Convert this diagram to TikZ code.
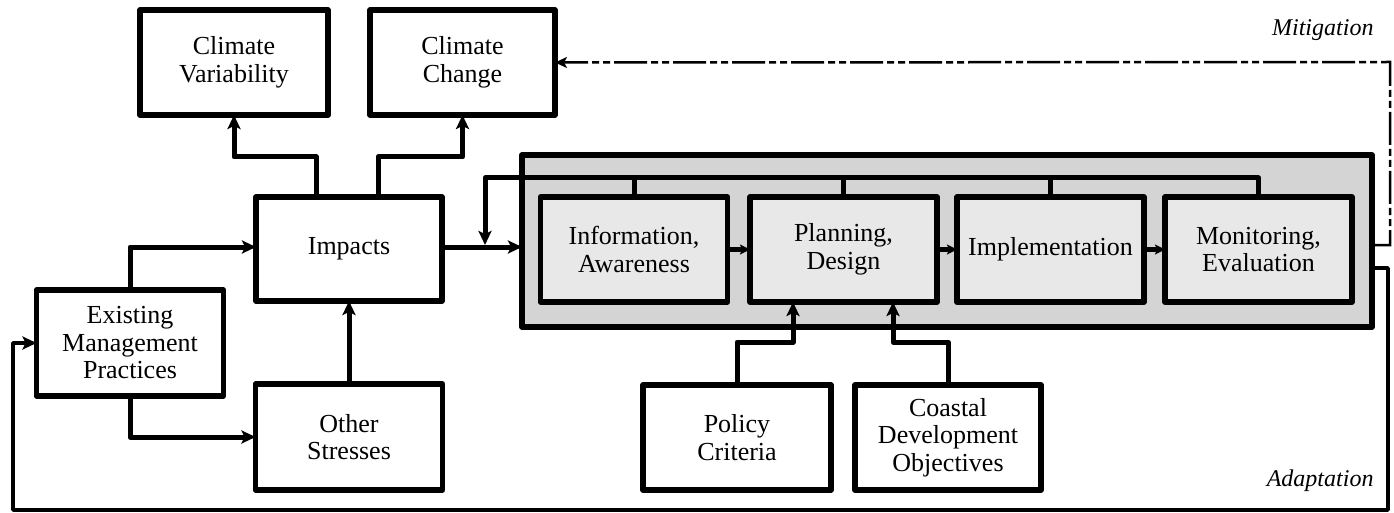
\documentclass[tikz,border=0pt]{standalone}
\usepackage{fontspec}
\setmainfont{LiberationSerif}[Extension=.ttf,UprightFont=*-Regular,ItalicFont=*-Italic,BoldFont=*-Bold,BoldItalicFont=*-BoldItalic]
\usetikzlibrary{arrows.meta,calc}
\begin{document}
\begin{tikzpicture}[x=1pt,y=-1pt,
  box/.style={draw,line width=5.5pt,inner sep=0pt,outer sep=0pt,align=center,
    font=\fontsize{26}{27.5}\selectfont,line join=round},
  wbox/.style={box,fill=white},
  ibox/.style={box,fill=black!9,minimum width=187pt,minimum height=105pt},
  conn/.style={line width=5pt,line join=round,-{Stealth[length=14pt,width=13pt,inset=3pt]}},
  plain/.style={line width=5pt,line join=round},
  small/.style={line width=5pt,-{Stealth[length=10pt,width=10pt,inset=2pt]}},
  lab/.style={font=\fontsize{24}{26}\selectfont\itshape}]
\useasboundingbox (0,0) rectangle (1394,513);
% gray frame
\node[box,fill=black!17,minimum width=850pt,minimum height=172pt] (outer) at (947,241) {};
% boxes
\node[wbox,minimum width=188pt,minimum height=105pt] (cv) at (234,62.5) {Climate\\Variability};
\node[wbox,minimum width=185pt,minimum height=105pt] (cc) at (462.5,62.5) {Climate\\Change};
\node[wbox,minimum width=186pt,minimum height=104pt] (imp) at (349,249) {Impacts};
\node[wbox,minimum width=187pt,minimum height=106pt] (emp) at (130,343) {Existing\\Management\\Practices};
\node[wbox,minimum width=187pt,minimum height=106pt] (os) at (349,437) {Other\\Stresses};
\node[ibox] (info) at (634,249.5) {Information,\\Awareness};
\node[ibox] (plan) at (843.5,249.5) {Planning,\\Design};
\node[ibox] (impl) at (1050.5,249.5) {Implementation};
\node[ibox] (mon) at (1258.5,249.5) {Monitoring,\\Evaluation};
\node[wbox,minimum width=188pt,minimum height=105pt] (pol) at (737,437.5) {Policy\\Criteria};
\node[wbox,minimum width=186pt,minimum height=105pt] (cdo) at (948,437.5) {Coastal\\Development\\Objectives};
% labels
\node[lab,anchor=east] (mit) at (1377,30) {Mitigation};
\node[lab,anchor=east] (ada) at (1377,481) {Adaptation};
% coordinates
\coordinate (bus) at (485,178);
\coordinate (drop) at (485,245);
\coordinate (bfb) at (13,510);
\coordinate (rfb) at (1388,510);
\coordinate (mr) at (1390,62);
% connectors
\draw[conn] ([xshift=-33pt]imp.north) |- (234,157) -- (cv.south);
\draw[conn] ([xshift=29pt]imp.north) |- (462.5,157) -- (cc.south);
\draw[conn] (emp.north) -- (emp.north |- 0,247) -- (imp.west |- 0,247);
\draw[conn] (emp.south) |- (os.west |- 0,437);
\draw[conn] (os.north) -- (imp.south);
\draw[conn] (imp.east |- 0,247) -- (outer.west |- 0,247);
\draw[conn] (mon.north) |- (bus) -- (drop);
\draw[plain] (info.north) -- (info.north |- bus);
\draw[plain] (plan.north) -- (plan.north |- bus);
\draw[plain] (impl.north) -- (impl.north |- bus);
\draw[small] (info.east) -- (plan.west);
\draw[small] (plan.east) -- (impl.west);
\draw[small] (impl.east) -- (mon.west);
\draw[conn] (pol.north) |- (793,342) -- (793,302);
\draw[conn] (cdo.north) |- (893,342) -- (893,302);
\draw[line width=2.5pt,dash pattern=on 33pt off 4pt on 7pt off 4pt on 7pt off 4pt,
  -{Stealth[length=12pt,width=11pt,inset=3pt]}]
  (outer.east |- 0,245) -| (mr) -- (cc.east);
\draw[line width=3.5pt,line join=round,-{Stealth[length=14pt,width=13pt,inset=3pt]}]
  (outer.east |- 0,268) -| (rfb) -- (bfb) |- (emp.west);
\end{tikzpicture}
\end{document}
